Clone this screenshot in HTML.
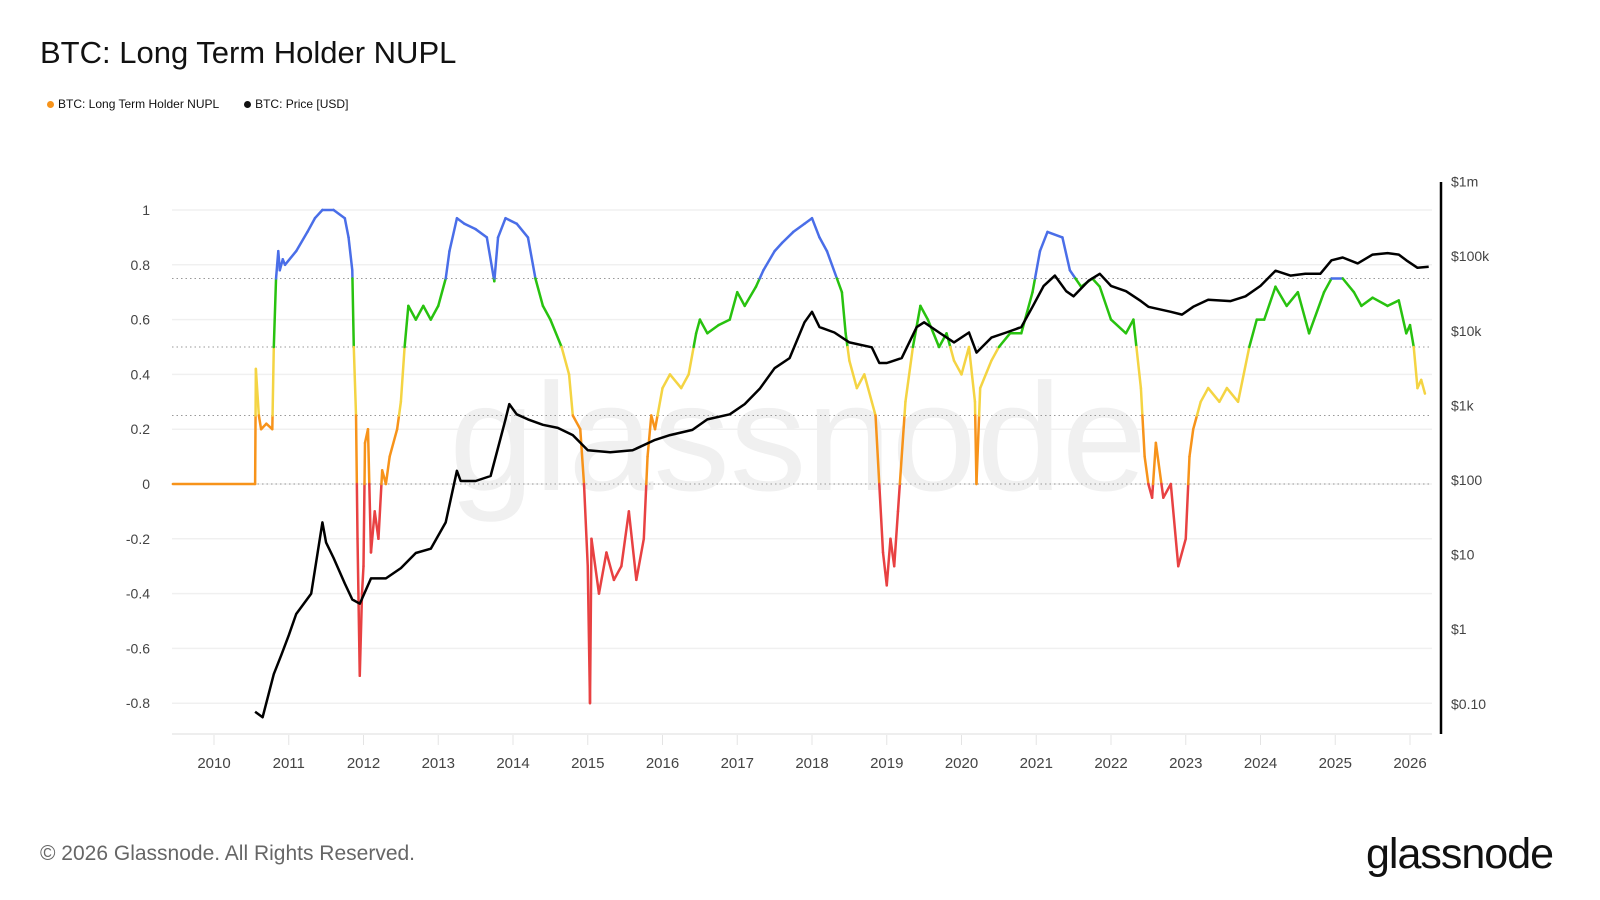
<!DOCTYPE html>
<html><head><meta charset="utf-8">
<style>
html,body{margin:0;padding:0;background:#fff;}
body{width:1600px;height:900px;position:relative;overflow:hidden;font-family:"Liberation Sans",sans-serif;}
.t{position:absolute;white-space:nowrap;}
</style></head>
<body>
<div class="t" style="left:40px;top:35px;font-size:31px;color:#111;">BTC: Long Term Holder NUPL</div>
<div class="t" style="left:47px;top:97px;font-size:12px;color:#111;">
<span><span style="display:inline-block;width:7px;height:7px;border-radius:50%;background:#f7931a;margin-right:4px"></span>BTC: Long Term Holder NUPL</span>
<span style="margin-left:22px"><span style="display:inline-block;width:7px;height:7px;border-radius:50%;background:#111;margin-right:4px"></span>BTC: Price [USD]</span>
</div>
<svg id="chart" width="1600" height="900" style="position:absolute;left:0;top:0" xmlns="http://www.w3.org/2000/svg">
<text x="798" y="490" text-anchor="middle" font-family="Liberation Sans,sans-serif" font-size="153" fill="#f0f0f0">glassnode</text>
<g id="grid"></g><g id="axes"></g><g id="nupl"></g><g id="price"></g>
</svg>
<div class="t" style="left:40px;top:842px;font-size:21px;color:#666;">© 2026 Glassnode. All Rights Reserved.</div>
<div class="t" style="left:1366px;top:830px;font-size:43px;color:#111;letter-spacing:-1px;">glassnode</div>
<script>
const nuplDates=[2009.45,2010.55,2010.56,2010.6,2010.63,2010.7,2010.78,2010.8,2010.83,2010.86,2010.88,2010.92,2010.95,2011.1,2011.25,2011.35,2011.45,2011.6,2011.75,2011.8,2011.85,2011.87,2011.9,2011.92,2011.95,2011.98,2012.0,2012.02,2012.06,2012.1,2012.15,2012.2,2012.25,2012.3,2012.35,2012.45,2012.5,2012.55,2012.6,2012.7,2012.8,2012.9,2013.0,2013.1,2013.15,2013.25,2013.35,2013.5,2013.65,2013.75,2013.8,2013.9,2014.05,2014.2,2014.3,2014.4,2014.5,2014.65,2014.75,2014.8,2014.9,2014.95,2015.0,2015.03,2015.05,2015.15,2015.25,2015.35,2015.45,2015.55,2015.65,2015.75,2015.8,2015.85,2015.9,2016.0,2016.1,2016.25,2016.35,2016.45,2016.5,2016.6,2016.75,2016.9,2017.0,2017.1,2017.25,2017.35,2017.5,2017.6,2017.75,2017.9,2018.0,2018.1,2018.2,2018.4,2018.45,2018.5,2018.6,2018.7,2018.8,2018.85,2018.9,2018.95,2019.0,2019.05,2019.1,2019.15,2019.25,2019.35,2019.45,2019.55,2019.7,2019.8,2019.9,2020.0,2020.1,2020.18,2020.2,2020.25,2020.4,2020.5,2020.65,2020.8,2020.95,2021.05,2021.15,2021.35,2021.45,2021.6,2021.75,2021.85,2022.0,2022.2,2022.3,2022.4,2022.45,2022.5,2022.55,2022.6,2022.7,2022.8,2022.9,2023.0,2023.05,2023.1,2023.2,2023.3,2023.45,2023.55,2023.7,2023.85,2023.95,2024.05,2024.2,2024.35,2024.5,2024.65,2024.85,2024.95,2025.1,2025.25,2025.35,2025.5,2025.7,2025.85,2025.95,2026.0,2026.05,2026.1,2026.15,2026.2];
const nuplValues=[0,0,0.42,0.25,0.2,0.22,0.2,0.5,0.75,0.85,0.78,0.82,0.8,0.85,0.92,0.97,1.0,1.0,0.97,0.9,0.78,0.5,0.25,-0.2,-0.7,-0.4,-0.3,0.15,0.2,-0.25,-0.1,-0.2,0.05,0.0,0.1,0.2,0.3,0.5,0.65,0.6,0.65,0.6,0.65,0.75,0.85,0.97,0.95,0.93,0.9,0.74,0.9,0.97,0.95,0.9,0.75,0.65,0.6,0.5,0.4,0.25,0.2,0.0,-0.3,-0.8,-0.2,-0.4,-0.25,-0.35,-0.3,-0.1,-0.35,-0.2,0.1,0.25,0.2,0.35,0.4,0.35,0.4,0.55,0.6,0.55,0.58,0.6,0.7,0.65,0.72,0.78,0.85,0.88,0.92,0.95,0.97,0.9,0.85,0.7,0.55,0.45,0.35,0.4,0.3,0.25,0.0,-0.25,-0.37,-0.2,-0.3,-0.1,0.3,0.5,0.65,0.6,0.5,0.55,0.45,0.4,0.5,0.3,0.0,0.35,0.45,0.5,0.55,0.55,0.7,0.85,0.92,0.9,0.78,0.72,0.75,0.72,0.6,0.55,0.6,0.35,0.1,0.0,-0.05,0.15,-0.05,0.0,-0.3,-0.2,0.1,0.2,0.3,0.35,0.3,0.35,0.3,0.5,0.6,0.6,0.72,0.65,0.7,0.55,0.7,0.75,0.75,0.7,0.65,0.68,0.65,0.67,0.55,0.58,0.5,0.35,0.38,0.33];
const priceDates=[2010.55,2010.65,2010.8,2010.9,2011.0,2011.1,2011.3,2011.45,2011.5,2011.6,2011.75,2011.85,2011.95,2012.1,2012.3,2012.5,2012.7,2012.9,2013.1,2013.25,2013.3,2013.5,2013.7,2013.9,2013.95,2014.05,2014.2,2014.4,2014.6,2014.8,2015.0,2015.3,2015.6,2015.9,2016.1,2016.4,2016.6,2016.9,2017.1,2017.3,2017.5,2017.7,2017.9,2018.0,2018.1,2018.3,2018.5,2018.8,2018.9,2019.0,2019.2,2019.4,2019.5,2019.7,2019.9,2020.1,2020.2,2020.4,2020.6,2020.8,2020.95,2021.1,2021.25,2021.4,2021.5,2021.7,2021.85,2022.0,2022.2,2022.4,2022.5,2022.8,2022.95,2023.1,2023.3,2023.6,2023.8,2024.0,2024.2,2024.4,2024.6,2024.8,2024.95,2025.1,2025.3,2025.5,2025.7,2025.85,2025.95,2026.1,2026.25];
const priceValues=[0.078,0.066,0.25,0.45,0.83,1.6,3,27,14.5,9,4.1,2.5,2.2,4.8,4.8,6.6,10.5,12,27,133,97,97,113,650,1040,760,650,550,500,400,250,235,250,345,400,470,650,760,1040,1670,3150,4300,13000,18000,11200,9500,7000,6000,3700,3700,4300,11200,13000,9500,7000,9500,5100,8100,9500,11200,21000,40000,55000,34000,29000,47000,58000,40000,34000,25000,21000,18000,16500,21000,26000,25000,29000,40000,64000,55000,58000,58000,88000,96000,80000,105000,110000,105000,88000,70000,72000];
const leftTicks=[1,0.8,0.6,0.4,0.2,0,-0.2,-0.4,-0.6,-0.8];
const leftTickLabels=["1","0.8","0.6","0.4","0.2","0","-0.2","-0.4","-0.6","-0.8"];
const rightTicks=[1e6,1e5,1e4,1e3,100,10,1,0.1];
const rightTickLabels=["$1m","$100k","$10k","$1k","$100","$10","$1","$0.10"];
const years=[2010,2011,2012,2013,2014,2015,2016,2017,2018,2019,2020,2021,2022,2023,2024,2025,2026];
const bands=[0.75,0.5,0.25,0];

const NS="http://www.w3.org/2000/svg";
const X0=172,X1=1432;
const xS=y=>214+(y-2010)*74.75;
const yN=v=>484-v*274;
const yP=p=>480-(Math.log10(p)-2)*74.6;
function mk(tag,attrs,parent){const e=document.createElementNS(NS,tag);for(const k in attrs)e.setAttribute(k,attrs[k]);parent.appendChild(e);return e;}
const grid=document.getElementById('grid'),axes=document.getElementById('axes');
leftTicks.forEach((v,i)=>{
  const l=mk('line',{x1:X0,x2:X1,y1:yN(v),y2:yN(v),stroke:'#f0f0f0','stroke-width':1.5},grid);
  
  
  const t=mk('text',{x:150,y:yN(v)+5,'text-anchor':'end','font-size':14,fill:'#444','font-family':'Liberation Sans,sans-serif'},axes);
  t.textContent=leftTickLabels[i];
  
  
});
bands.forEach(v=>{
  const l=mk('line',{x1:X0,x2:X1,y1:yN(v),y2:yN(v),stroke:'#999','stroke-width':1,'stroke-dasharray':'1.5 3'},grid);
  
  
});
const bl=mk('line',{x1:X0,x2:X1,y1:734,y2:734,stroke:'#eee','stroke-width':2},axes);


years.forEach(y=>{
  const tk=mk('line',{x1:xS(y),x2:xS(y),y1:735,y2:745,stroke:'#e4e4e4','stroke-width':1},axes);
  
  
  const t=mk('text',{x:xS(y),y:768,'text-anchor':'middle','font-size':15,fill:'#444','font-family':'Liberation Sans,sans-serif'},axes);
  t.textContent=String(y);
  
  
});
const ra=mk('line',{x1:1441,x2:1441,y1:182,y2:734,stroke:'#000','stroke-width':2.5},axes);


rightTicks.forEach((p,i)=>{
  const t=mk('text',{x:1451,y:yP(p)+5,'font-size':14,fill:'#444','font-family':'Liberation Sans,sans-serif'},axes);
  t.textContent=rightTickLabels[i];
  
  
});
function col(v){return v<0?'#e84142':v<0.25?'#f7931a':v<0.5?'#f4d443':v<0.75?'#28c20f':'#4a6ee8';}
const ng=document.getElementById('nupl');
const thr=[0,0.25,0.5,0.75];
for(let i=0;i<nuplDates.length-1;i++){
  const a=nuplValues[i],b=nuplValues[i+1],da=nuplDates[i],db=nuplDates[i+1];
  const cuts=[0];
  thr.forEach(t=>{if((a-t)*(b-t)<0)cuts.push((t-a)/(b-a));});
  cuts.push(1);cuts.sort((p,q)=>p-q);
  for(let k=0;k<cuts.length-1;k++){
    const f0=cuts[k],f1=cuts[k+1],vm=a+(b-a)*(f0+f1)/2;
    const s=mk('line',{x1:xS(da+(db-da)*f0),y1:yN(a+(b-a)*f0),x2:xS(da+(db-da)*f1),y2:yN(a+(b-a)*f1),stroke:col(vm),'stroke-width':2.5,'stroke-linecap':'round'},ng);
    
    
  }
}
const pp=mk('path',{d:priceDates.map((d,i)=>(i?'L':'M')+xS(d).toFixed(1)+' '+yP(priceValues[i]).toFixed(1)).join(''),fill:'none',stroke:'#000','stroke-width':2.5,'stroke-linejoin':'round'},document.getElementById('price'));


</script>
</body></html>
